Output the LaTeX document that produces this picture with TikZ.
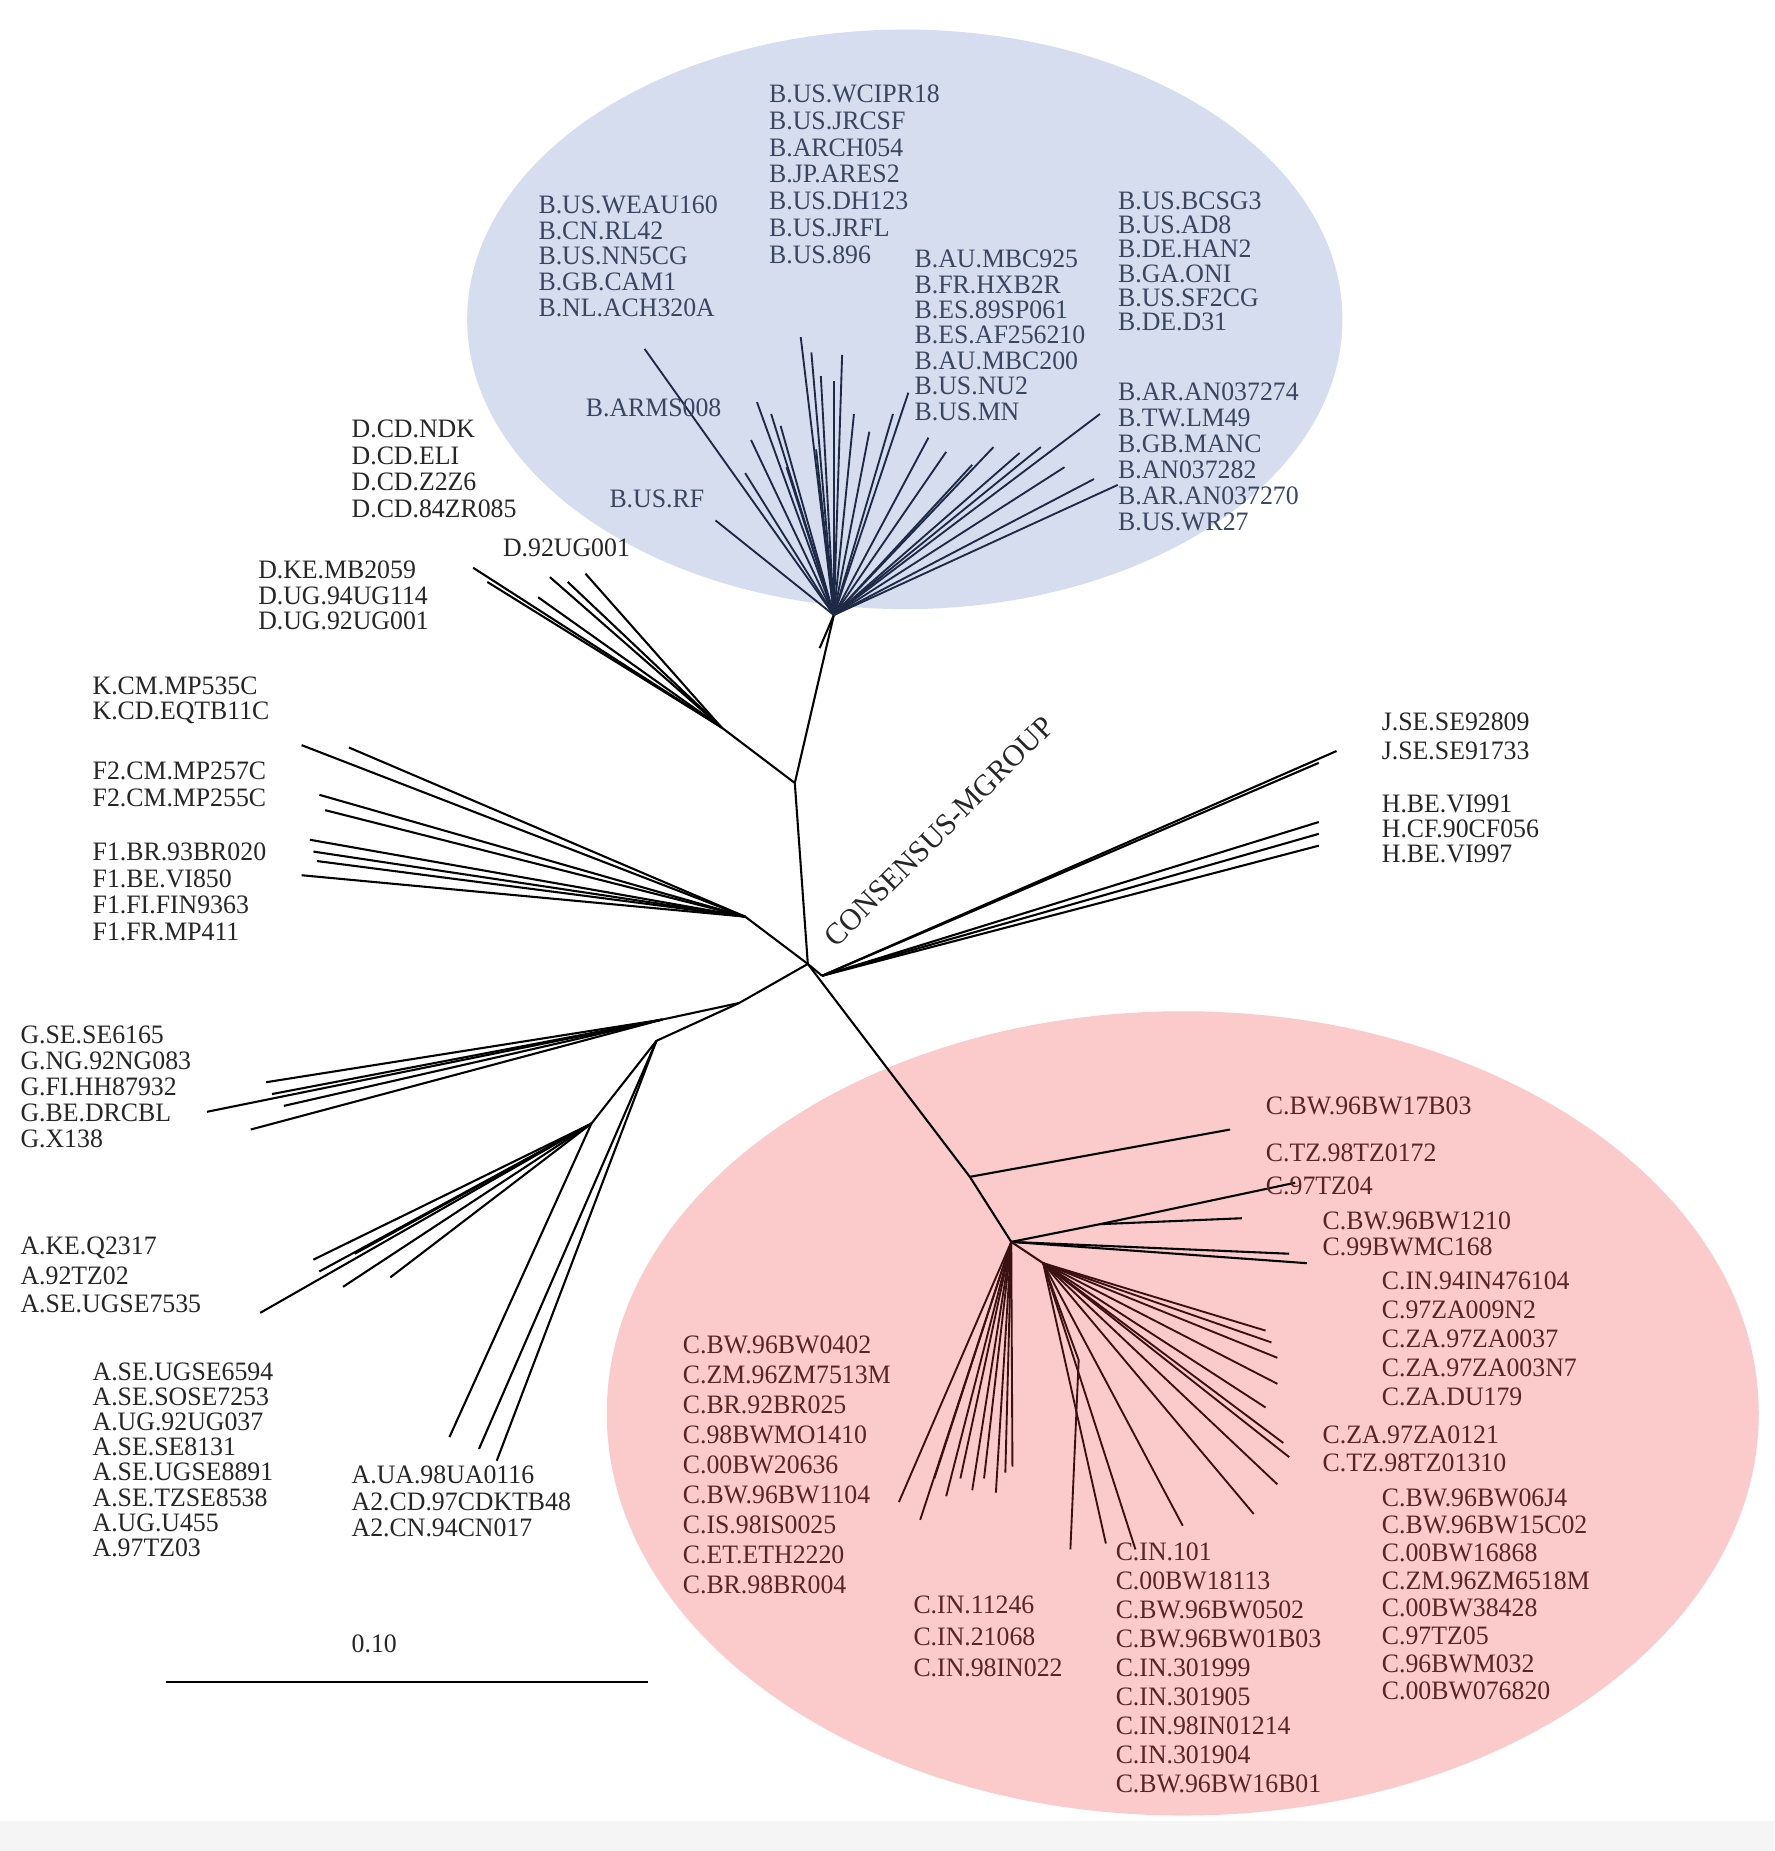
\documentclass[tikz,border=0pt]{standalone}
\usepackage{fontspec}
\setmainfont{Liberation Serif}[FakeStretch=0.97]
\begin{document}
\begin{tikzpicture}[x=0.02cm,y=-0.02cm,
  lb/.style={anchor=west,inner sep=0pt,font=\fontsize{12.8}{14}\selectfont,text=#1},
  lb/.default=black!85,
  br/.style={line width=1pt,draw=#1},
  br/.default=black]
\definecolor{bfill}{HTML}{D5DDEF}\definecolor{rfill}{HTML}{FBCACA}
\definecolor{btxt}{HTML}{3A4560}\definecolor{rtxt}{HTML}{5A2424}
\definecolor{bl}{HTML}{1E2A45}\definecolor{rl}{HTML}{3A1010}
\useasboundingbox (0,0) rectangle (1500,1565);
\fill[white] (0,0) rectangle (1500,1565);
\fill[black!4] (0,1540) rectangle (1500,1565);
\fill[bfill] (765,270) ellipse [x radius=370,y radius=245];
\fill[rfill] (1000,1195) ellipse [x radius=487,y radius=340];
% internal nodes
\coordinate (R) at (683,815);
\coordinate (DK) at (672,662);
\coordinate (BH) at (705,520);
\coordinate (Dn) at (610,615);
\coordinate (Fn) at (630,775);
\coordinate (GA) at (625,848);
\coordinate (Gn) at (560,862);
\coordinate (An) at (555,880);
\coordinate (An2) at (500,950);
\coordinate (HJ) at (695,825);
\coordinate (C1) at (820,995);
\coordinate (C2) at (855,1050);
\coordinate (C3) at (930,1035);
\coordinate (C4) at (882,1068);
\coordinate (C5) at (912,1150);
% backbone
\draw[br] (R) -- (DK) -- (BH);
\draw[br] (693,548) -- (BH);
\draw[br] (DK) -- (Dn);
\draw[br] (R) -- (Fn);
\draw[br] (R) -- (GA) -- (Gn);
\draw[br] (GA) -- (An) -- (An2);
\draw[br] (R) -- (HJ);
\draw[br] (R) -- (C1) -- (C2);
\draw[br] (C1) -- (1040,955);
\draw[br] (C2) -- (C3) -- (1095,1000);
\draw[br] (C3) -- (1050,1030);
\draw[br] (C2) -- (1090,1060);
\draw[br] (C2) -- (1105,1068);
\draw[br=rl] (C2) -- (C4);
% B fan
\foreach \p in {(545,295),(605,440),(640,340),(635,372),(652,350),(660,360),(677,285),(686,298),(694,318),(705,322),(712,300),(722,350),(735,365),(755,350),(768,332),(785,370),(800,382),(822,393),(840,378),(862,383),(880,378),(900,395),(930,350),(925,405),(945,410),(630,400),(665,395),(690,380)}
  \draw[br=bl,line width=0.9pt] (BH) -- \p;
% D
\foreach \p in {(400,480),(412,492),(465,488),(480,492),(495,485),(455,505)}
  \draw[br] (Dn) -- \p;
% K F
\foreach \p in {(255,630),(295,632),(270,672),(275,685),(262,710),(265,720),(268,728),(255,740)}
  \draw[br] (Fn) -- \p;
% G
\foreach \p in {(175,940),(212,955),(225,915),(230,925),(240,935)}
  \draw[br] (Gn) -- \p;
% A
\foreach \p in {(220,1110),(265,1065),(270,1075),(290,1088),(300,1060),(330,1080),(380,1215)}
  \draw[br] (An2) -- \p;
\foreach \p in {(405,1225),(420,1235)}
  \draw[br] (An) -- \p;
% H J
\foreach \p in {(1130,635),(1115,645),(1115,695),(1115,705),(1115,715)}
  \draw[br] (HJ) -- \p;
% C fans
\foreach \p in {(1070,1125),(1075,1135),(1080,1148),(1080,1170),(1070,1190),(1085,1220),(1090,1232),(1080,1255),(1060,1280),(1000,1290),(960,1310),(935,1305)}
  \draw[br=rl,line width=0.9pt] (C4) -- \p;
\draw[br=rl,line width=0.9pt] (C4) -- (C5) -- (905,1310);
\foreach \p in {(760,1270),(778,1285),(790,1250),(800,1265),(812,1250),(822,1260),(832,1250),(842,1262),(850,1245),(856,1240)}
  \draw[br=rl,line width=0.9pt] (C2) -- \p;
% labels blue
\foreach \t [count=\i] in {B.US.WEAU160,B.CN.RL42,B.US.NN5CG,B.GB.CAM1,B.NL.ACH320A}
  \node[lb=btxt] (b1\i) at (455,{173+21.8*(\i-1)}) {\t};
\foreach \t [count=\i] in {B.US.WCIPR18,B.US.JRCSF,B.ARCH054,B.JP.ARES2,B.US.DH123,B.US.JRFL,B.US.896}
  \node[lb=btxt] (b2\i) at (650,{79+22.8*(\i-1)}) {\t};
\foreach \t [count=\i] in {B.AU.MBC925,B.FR.HXB2R,B.ES.89SP061,B.ES.AF256210,B.AU.MBC200,B.US.NU2,B.US.MN}
  \node[lb=btxt] (b3\i) at (773,{219+21.5*(\i-1)}) {\t};
\foreach \t [count=\i] in {B.US.BCSG3,B.US.AD8,B.DE.HAN2,B.GA.ONI,B.US.SF2CG,B.DE.D31}
  \node[lb=btxt] (b4\i) at (945,{170+20.4*(\i-1)}) {\t};
\foreach \t [count=\i] in {B.AR.AN037274,B.TW.LM49,B.GB.MANC,B.AN037282,B.AR.AN037270,B.US.WR27}
  \node[lb=btxt] (b5\i) at (945,{331+22*(\i-1)}) {\t};
\node[lb=btxt] (barms) at (495,345) {B.ARMS008};
\node[lb=btxt] (busrf) at (515,422) {B.US.RF};
% D K F G A
\foreach \t [count=\i] in {D.CD.NDK,D.CD.ELI,D.CD.Z2Z6,D.CD.84ZR085}
  \node[lb] (d1\i) at (297,{363+22.3*(\i-1)}) {\t};
\foreach \t [count=\i] in {D.KE.MB2059,D.UG.94UG114,D.UG.92UG001}
  \node[lb] (d2\i) at (218,{482+21.5*(\i-1)}) {\t};
\node[lb] (d3) at (425,463) {D.92UG001};
\foreach \t [count=\i] in {K.CM.MP535C,K.CD.EQTB11C}
  \node[lb] (k\i) at (78,{580+23*(\i-1)}) {\t};
\foreach \t [count=\i] in {F2.CM.MP257C,F2.CM.MP255C}
  \node[lb] (f2\i) at (78,{652+23*(\i-1)}) {\t};
\foreach \t [count=\i] in {F1.BR.93BR020,F1.BE.VI850,F1.FI.FIN9363,F1.FR.MP411}
  \node[lb] (f1\i) at (78,{720+22.7*(\i-1)}) {\t};
\foreach \t [count=\i] in {G.SE.SE6165,G.NG.92NG083,G.FI.HH87932,G.BE.DRCBL,G.X138}
  \node[lb] (g\i) at (17,{875+22*(\i-1)}) {\t};
\foreach \t [count=\i] in {A.KE.Q2317,A.92TZ02,A.SE.UGSE7535}
  \node[lb] (a1\i) at (17,{1055+23.5*(\i-1)}) {\t};
\foreach \t [count=\i] in {A.SE.UGSE6594,A.SE.SOSE7253,A.UG.92UG037,A.SE.SE8131,A.SE.UGSE8891,A.SE.TZSE8538,A.UG.U455,A.97TZ03}
  \node[lb] (a2\i) at (78,{1160+21.2*(\i-1)}) {\t};
\foreach \t [count=\i] in {A.UA.98UA0116,A2.CD.97CDKTB48,A2.CN.94CN017}
  \node[lb] (a3\i) at (297,{1247+22.5*(\i-1)}) {\t};
\foreach \t [count=\i] in {J.SE.SE92809,J.SE.SE91733}
  \node[lb] (j\i) at (1168,{610+25*(\i-1)}) {\t};
\foreach \t [count=\i] in {H.BE.VI991,H.CF.90CF056,H.BE.VI997}
  \node[lb] (h\i) at (1168,{680+21*(\i-1)}) {\t};
\node[lb,rotate=45,anchor=center,scale=1.15] (cons) at (794,703) {CONSENSUS-MGROUP};
% C labels
\node[lb=rtxt] (c01) at (1070,935) {C.BW.96BW17B03};
\node[lb=rtxt] (c02) at (1070,975) {C.TZ.98TZ0172};
\node[lb=rtxt] (c03) at (1070,1003) {C.97TZ04};
\node[lb=rtxt] (c04) at (1118,1032) {C.BW.96BW1210};
\node[lb=rtxt] (c05) at (1118,1054) {C.99BWMC168};
\foreach \t [count=\i] in {C.IN.94IN476104,C.97ZA009N2,C.ZA.97ZA0037,C.ZA.97ZA003N7,C.ZA.DU179}
  \node[lb=rtxt] (c1\i) at (1168,{1083+24.5*(\i-1)}) {\t};
\node[lb=rtxt] (c06) at (1118,1213) {C.ZA.97ZA0121};
\node[lb=rtxt] (c07) at (1118,1237) {C.TZ.98TZ01310};
\foreach \t [count=\i] in {C.BW.96BW06J4,C.BW.96BW15C02,C.00BW16868,C.ZM.96ZM6518M,C.00BW38428,C.97TZ05,C.96BWM032,C.00BW076820}
  \node[lb=rtxt] (c2\i) at (1168,{1266+23.4*(\i-1)}) {\t};
\foreach \t [count=\i] in {C.BW.96BW0402,C.ZM.96ZM7513M,C.BR.92BR025,C.98BWMO1410,C.00BW20636,C.BW.96BW1104,C.IS.98IS0025,C.ET.ETH2220,C.BR.98BR004}
  \node[lb=rtxt] (c3\i) at (577,{1137+25.4*(\i-1)}) {\t};
\foreach \t [count=\i] in {C.IN.11246,C.IN.21068,C.IN.98IN022}
  \node[lb=rtxt] (c4\i) at (772,{1357+26.5*(\i-1)}) {\t};
\foreach \t [count=\i] in {C.IN.101,C.00BW18113,C.BW.96BW0502,C.BW.96BW01B03,C.IN.301999,C.IN.301905,C.IN.98IN01214,C.IN.301904,C.BW.96BW16B01}
  \node[lb=rtxt] (c5\i) at (943,{1312+24.5*(\i-1)}) {\t};
% scale bar
\coordinate (s1) at (140,1422); \coordinate (s2) at (548,1422);
\draw[br,line width=1.2pt] (s1) -- (s2);
\node[lb] (sc) at (297,1390) {0.10};
\end{tikzpicture}
\end{document}
